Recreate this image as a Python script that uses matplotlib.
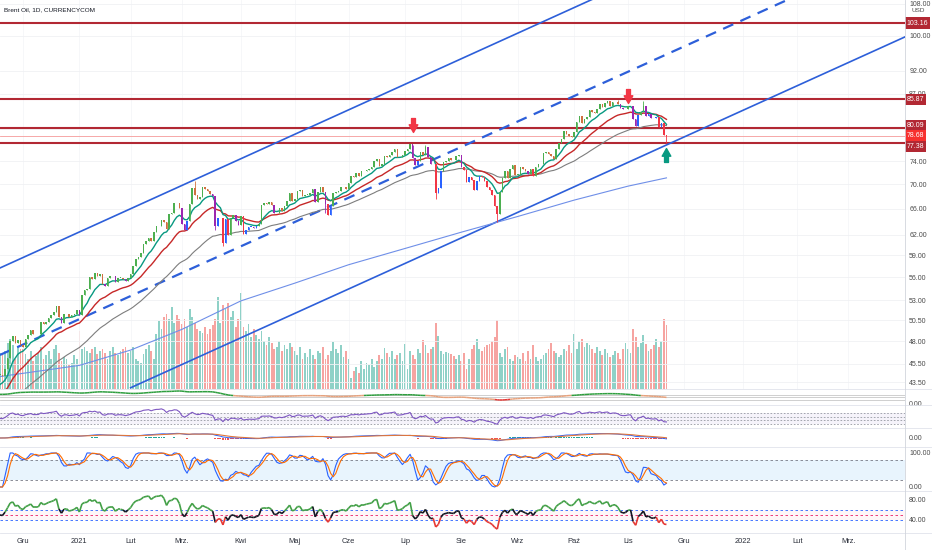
import numpy as np
import pandas as pd
import matplotlib
matplotlib.use("Agg")
import matplotlib.pyplot as plt
from matplotlib.collections import LineCollection
from matplotlib.lines import Line2D
from matplotlib.path import Path
from matplotlib.ticker import FixedLocator, FixedFormatter, NullLocator

plt.rcParams['font.family'] = ['Liberation Sans Narrow', 'Liberation Sans', 'DejaVu Sans']

# daily closes (Brent Oil CFD, 18 Nov 2020 - 22 Nov 2021)
close_nov20 = [44.3, 44.2, 44.9, 46.1, 48.0, 48.6, 47.8, 48.2, 47.6]
close_dec20 = [47.4, 48.3, 48.7, 49.3, 48.8, 48.8, 48.9, 50.3, 50.0, 50.3, 50.8, 51.1, 51.5, 52.3,
               50.9, 50.1, 51.2, 51.3, 50.9, 51.1, 51.3, 51.8]
close_jan21 = [51.1, 53.6, 54.3, 54.4, 56.0, 55.7, 56.6, 56.1, 56.4, 55.1, 54.8, 55.9, 56.1, 56.1,
               55.4, 55.9, 55.9, 55.8, 55.5, 55.9]
close_feb21 = [56.4, 57.5, 58.5, 58.8, 59.3, 60.6, 61.1, 61.5, 61.1, 62.4, 63.3, 63.4, 64.3, 63.9,
               62.9, 65.2, 65.4, 67.0, 66.9, 66.1]
close_mar21 = [63.7, 62.7, 64.1, 66.7, 69.4, 68.2, 67.5, 67.9, 69.6, 69.2, 68.9, 68.4, 68.0, 63.3,
               64.5, 64.6, 60.8, 64.4, 62.0, 64.6, 65.0, 64.1, 63.5]
close_apr21 = [64.9, 62.2, 62.7, 63.2, 63.2, 63.0, 63.3, 63.7, 66.6, 66.9, 66.8, 67.1, 66.6, 65.3,
               65.4, 66.1, 65.7, 66.4, 67.3, 68.6, 67.3]
close_may21 = [67.6, 68.9, 69.0, 68.1, 68.3, 68.3, 68.6, 69.3, 67.1, 68.7, 69.5, 68.7, 66.7, 65.1,
               66.4, 68.5, 68.7, 68.9, 69.5, 69.6, 69.3]
close_jun21 = [70.3, 71.4, 71.3, 71.9, 71.5, 72.2, 72.2, 72.5, 72.7, 72.9, 74.0, 74.4, 73.1, 73.5,
               74.9, 74.8, 75.2, 75.6, 76.2, 74.7, 74.8, 75.1]
close_jul21 = [75.8, 76.2, 77.2, 74.5, 73.4, 74.1, 75.6, 75.2, 76.5, 74.8, 73.5, 73.6, 68.6, 69.4,
               72.2, 73.8, 74.1, 74.5, 74.3, 74.2, 75.0, 75.2]
close_aug21 = [72.9, 72.4, 70.4, 71.3, 70.7, 69.0, 70.6, 71.4, 71.3, 70.6, 69.5, 69.0, 68.2, 66.5,
               65.2, 68.8, 71.1, 72.3, 71.1, 72.7, 73.4, 71.6]
close_sep21 = [71.6, 73.0, 72.6, 72.2, 71.7, 72.6, 71.5, 72.9, 73.5, 73.6, 75.5, 75.7, 75.3, 74.9,
               74.4, 76.2, 77.3, 78.1, 79.5, 79.1, 78.6, 78.5]
close_oct21 = [79.3, 81.3, 82.6, 81.1, 82.0, 82.4, 83.7, 83.4, 83.2, 84.0, 84.9, 84.3, 85.1, 85.5,
               84.6, 85.3, 85.4, 85.0, 84.2, 83.9, 84.0]
close_nov21 = [84.5, 84.6, 82.0, 80.5, 82.7, 83.4, 84.6, 82.6, 82.9, 82.2, 82.1, 82.4, 80.3, 81.2,
               78.9, 78.68]

# volume (thousands of lots, rough read of bar heights)
volume = [36, 34, 38, 46, 50, 44, 30, 42, 40,
          40, 35, 30, 38, 28, 33, 36, 42, 30, 34, 38, 30, 40, 44, 36, 28, 32, 30, 24, 26, 34, 30,
          58, 40, 42, 38, 36, 40, 42, 35, 38, 40, 36, 30, 38, 42, 36, 34, 38, 40, 42, 36,
          38, 42, 30, 28, 26, 35, 40, 44, 38, 30, 55, 68, 60, 72, 75, 70, 82, 66, 74, 70,
          65, 70, 62, 80, 72, 66, 60, 58, 56, 62, 55, 60, 64, 70, 92, 66, 84, 80, 86, 72, 78, 62, 70,
          96, 62, 58, 65, 52, 60, 54, 50, 58, 48, 44, 52, 46, 40, 42, 48, 38, 44, 40, 46, 42,
          38, 34, 42, 30, 36, 32, 40, 34, 30, 38, 36, 42, 30, 34, 38, 47, 40, 36, 44, 32, 38,
          30, 11, 18, 22, 16, 28, 20, 26, 24, 30, 22, 28, 34, 30, 41, 36, 32, 38, 30, 34, 36, 28,
          45, 20, 38, 34, 30, 40, 36, 49, 44, 36, 40, 42, 66, 53, 38, 35, 37, 36, 35, 33, 30, 34,
          28, 36, 20, 30, 40, 44, 50, 40, 38, 42, 44, 45, 48, 52, 69, 36, 32, 40, 42, 30, 28, 34,
          32, 30, 36, 28, 38, 30, 44, 32, 28, 30, 34, 36, 40, 46, 38, 36, 32, 34, 40, 38, 44, 36,
          55, 40, 48, 50, 42, 46, 44, 40, 36, 42, 38, 34, 40, 36, 32, 34, 38, 36, 30, 40, 46,
          40, 36, 60, 52, 42, 46, 54, 45, 38, 40, 44, 50, 42, 48, 70, 64]

# notable wicks
wick_high = {'2021-03-08': 70.6, '2021-07-06': 77.0, '2021-07-13': 76.9,
             '2021-10-26': 85.8, '2021-11-09': 85.6}
wick_low = {'2021-03-18': 62.7, '2021-03-23': 60.3, '2021-05-19': 65.3,
            '2021-07-19': 67.6, '2021-08-20': 64.0, '2021-11-22': 77.4}

# 200-day MA
ma200_dates = ['2020-11-18', '2021-01-04', '2021-02-01', '2021-03-01', '2021-04-01', '2021-05-03',
               '2021-06-01', '2021-07-01', '2021-08-02', '2021-09-01', '2021-10-01', '2021-11-01',
               '2021-11-22']
ma200_vals = [44.1, 45.3, 47.0, 49.4, 52.9, 55.2, 57.7, 60.0, 62.4, 64.8, 67.4, 69.7, 71.1]

# drawn channel (two anchors each) and horizontal levels
channel_upper = [('2020-11-18', 57.25), ('2021-03-08', 70.8)]
channel_mid = [('2020-11-18', 46.45), ('2021-07-06', 72.66)]
channel_lower = [('2021-02-01', 42.93), ('2021-08-20', 64.0)]
levels = [103.16, 85.87, 80.09, 77.38]
last_price = 78.68
arrows_down = [('2021-07-06', 80.7), ('2021-11-01', 86.6)]
arrows_up = [('2021-11-22', 75.1)]

month_names = ['Gru', '2021', 'Lut', 'Mrz.', 'Kwi', 'Maj', 'Cze', 'Lip', 'Sie', 'Wrz', 'Paź', 'Lis',
               'Gru', '2022', 'Lut', 'Mrz.']
price_ticks = [43.5, 45.5, 48, 50.5, 53, 56, 59, 62, 66, 70, 74, 80, 87, 92, 100, 108]

close = np.array(close_nov20 + close_dec20 + close_jan21 + close_feb21 + close_mar21 + close_apr21
                 + close_may21 + close_jun21 + close_jul21 + close_aug21 + close_sep21 + close_oct21
                 + close_nov21)
volume = np.array(volume, dtype=float)

holidays = pd.to_datetime(['2020-12-25', '2021-01-01', '2021-04-02'])
days = pd.bdate_range('2020-11-18', '2022-03-31')
days = days[~days.isin(holidays)]
n = len(close)
x = np.arange(n)


def idx(d):
    return days.get_loc(pd.Timestamp(d))


opens = np.r_[close[0], close[:-1]]
highs = np.maximum(opens, close)
lows = np.minimum(opens, close)
for d, v in wick_high.items():
    highs[idx(d)] = v
for d, v in wick_low.items():
    lows[idx(d)] = v


def ema(values, period, seed=None):
    a = 2 / (period + 1)
    prev = values[0] if seed is None else seed
    out = np.empty(len(values))
    for k, v in enumerate(values):
        prev += a * (v - prev)
        out[k] = prev
    return out


def rsi(values, period):
    d = np.diff(values, prepend=values[0])
    up, dn = np.clip(d, 0, None), np.clip(-d, 0, None)
    au = ad = np.abs(d[1:period + 1]).mean() / 2
    out = np.empty(len(values))
    for k in range(len(values)):
        au = (au * (period - 1) + up[k]) / period
        ad = (ad * (period - 1) + dn[k]) / period
        out[k] = 100 - 100 / (1 + au / ad)
    return out


ema_fast = ema(close, 9, seed=43.0)
ema_mid = ema(close, 21, seed=42.0)
ema_slow = ema(close, 50, seed=40.5)

# ---- layout (pixel boxes) ----
W, H = 932, 550
R = 905
TICK_FS = 5.0


def rect(y0, y1):
    return [0, 1 - y1 / H, R / W, (y1 - y0) / H]


fig = plt.figure(figsize=(W / 100, H / 100), dpi=100)
ax_vol = fig.add_axes(rect(0, 389))
ax = fig.add_axes(rect(0, 389), sharex=ax_vol)
ax.patch.set_alpha(0)
ax_a = fig.add_axes(rect(389, 405), sharex=ax_vol)
ax_b = fig.add_axes(rect(405, 428), sharex=ax_vol)
ax_c = fig.add_axes(rect(428, 447), sharex=ax_vol)
ax_d = fig.add_axes(rect(447, 491), sharex=ax_vol)
ax_e = fig.add_axes(rect(491, 533), sharex=ax_vol)
panels = [ax_a, ax_b, ax_c, ax_d, ax_e]

month_idx = [np.argmax((days.year == p.year) & (days.month == p.month))
             for p in pd.period_range('2020-12', '2022-03', freq='M')]
i_dec, i_nov = month_idx[0], month_idx[11]
scale = (628 - 23) / (i_nov - i_dec)
xl = i_dec - 23 / scale
xr = xl + R / scale

# volume
vol_cols = np.where(close >= opens, '#8fd1c7', '#f6a4a1')
ax_vol.bar(x, volume, width=0.7, color=vol_cols)
ax_vol.set_ylim(0, 389)
ax_vol.set_axis_off()

# price
ax.set_yscale('log')
ax.set_ylim(42.80, 109.04)
ax.set_xlim(xl, xr)
ax.yaxis.set_major_locator(FixedLocator(price_ticks))
ax.yaxis.set_minor_locator(NullLocator())
ax.yaxis.set_major_formatter(FixedFormatter(['%.2f' % t for t in price_ticks]))
ax.yaxis.tick_right()
ax.tick_params(axis='y', length=0, pad=3, labelsize=TICK_FS, labelcolor='#4a4a4a')
ax.tick_params(axis='x', bottom=False, labelbottom=False)
ax.grid(axis='y', color='#f0f1f4', lw=0.6)
ax.grid(axis='x', color='#f5f6f8', lw=0.6)
for s in ax.spines.values():
    s.set_visible(False)

for lv in levels:
    ax.axhline(lv, color='#b22833', lw=1.5, zorder=2)
ax.axhline(last_price, color='#f59a9a', lw=0.6, zorder=2)

for pts, style in [(channel_upper, '-'), (channel_mid, '--'), (channel_lower, '-')]:
    (d1, p1), (d2, p2) = pts
    i1, i2 = idx(d1), idx(d2)
    k = (np.log(p2) - np.log(p1)) / (i2 - i1)
    xs = np.array([i1, xr + 5])
    ax.plot(xs, p1 * np.exp(k * (xs - i1)), ls=style, color='#2d5fd9',
            lw=1.6 if style == '--' else 1.2, dashes=(5, 3.5) if style == '--' else (None, None), zorder=3)

ax.plot([idx(d) for d in ma200_dates], ma200_vals, color='#6f8fe8', lw=0.8, zorder=3)
ax.plot(x, ema_slow, color='#7d7d7d', lw=0.8, zorder=4)
ax.plot(x, ema_mid, color='#c62828', lw=1.0, zorder=4)
ax.plot(x, ema_fast, color='#089981', lw=1.0, zorder=4)

cols = []
for c, o, g, s in zip(close, opens, ema_fast, ema_slow):
    if c >= g:
        cols.append('#4caf50' if c >= o else '#d0703f')
    elif c >= s:
        cols.append('#2962ff' if c >= o else '#9c27b0')
    else:
        cols.append('#2962ff' if c >= o else '#f23645')
ax.vlines(x, lows, highs, colors=cols, lw=0.6, zorder=5)
body_lo = np.minimum(opens, close)
body_h = np.maximum(np.abs(close - opens), 0.08)
ax.bar(x, body_h, bottom=body_lo, width=0.6, color=cols, zorder=5)

down = Path([(-0.28, 1), (0.28, 1), (0.28, 0.1), (0.62, 0.1), (0, -1), (-0.62, 0.1), (-0.28, 0.1),
             (-0.28, 1)], closed=True)
up = Path([(-0.28, -1), (0.28, -1), (0.28, -0.1), (0.62, -0.1), (0, 1), (-0.62, -0.1),
           (-0.28, -0.1), (-0.28, -1)], closed=True)
for d, p in arrows_down:
    ax.plot(idx(d), p, marker=down, markersize=10, color='#f23645', ls='none', zorder=6)
for d, p in arrows_up:
    ax.plot(idx(d), p, marker=up, markersize=10, color='#089981', ls='none', zorder=6)

# right-hand price boxes
box_offset = {80.09: 2.2, 77.38: -2.6}
for lv in levels + [last_price]:
    fc = '#f7312f' if lv == last_price else '#b22833'
    ax.annotate('%.2f' % lv, xy=(1, lv), xycoords=('axes fraction', 'data'),
                xytext=(1.2, box_offset.get(lv, 0)), textcoords='offset points',
                ha='left', va='center', fontsize=TICK_FS, color='white', annotation_clip=False,
                bbox=dict(boxstyle='square,pad=0.3', fc=fc, ec='none'), zorder=10)

# ---- indicator panels ----
for p in panels:
    for s in p.spines.values():
        s.set_visible(False)
    p.yaxis.tick_right()
    p.tick_params(axis='y', length=0, pad=3, labelsize=TICK_FS, labelcolor='#4a4a4a')
    p.tick_params(axis='x', bottom=False, labelbottom=False)


def colored_line(axis, ys, colors, lw):
    pts = np.column_stack([x, ys])
    segs = np.stack([pts[:-1], pts[1:]], axis=1)
    axis.add_collection(LineCollection(segs, colors=colors, linewidths=lw))


# A: trend gap
gap = ema((ema_fast - ema_slow) / ema_slow, 5)
lo_, hi_ = gap.min(), gap.max()
sp = hi_ - lo_
ax_a.set_ylim(lo_ - sp * 5 / 9, hi_ + sp * 2 / 9)
for f in (0.31, 0.47, 0.62):
    ax_a.plot([0, 1], [f, f], transform=ax_a.transAxes, color='#c8c8c8', lw=0.6)
mid_gap = (gap[:-1] + gap[1:]) / 2
colored_line(ax_a, gap, np.where(mid_gap > 0.045, '#2e9e3e',
                                 np.where(mid_gap < -0.02, '#e53935', '#e8a27c')), 1.1)
ya = ax_a.get_ylim()
ax_a.set_yticks([ya[0] + (ya[1] - ya[0]) / 16])
ax_a.set_yticklabels(['0.00'])

# B: RSI 14
r14 = rsi(close, 14)
ax_b.set_ylim(15.4, 99)
ax_b.axhspan(30, 70, color='#7e57c2', alpha=0.07, lw=0)
for lv in (70, 55, 45, 30):
    ax_b.axhline(lv, color='#9598a1', lw=0.6, dashes=(2, 2))
ax_b.plot(x, r14, color='#7e57c2', lw=0.8)
ax_b.set_yticks([])

# C: MACD
macd = ema(close, 12) - ema(close, 26)
signal = ema(macd, 9)
hist = macd - signal
ax_c.set_ylim(-5.4, 6)
ax_c.bar(x, hist, width=0.7, color=np.where(hist >= 0, '#26a69a', '#ef5350'))
ax_c.plot(x, macd, color='#2962ff', lw=0.7)
ax_c.plot(x, signal, color='#e0763b', lw=0.8)
ax_c.set_yticks([0])
ax_c.set_yticklabels(['0.00'])

# D: stochastic
s_lo = pd.Series(lows).rolling(14, min_periods=1).min().values
s_hi = pd.Series(highs).rolling(14, min_periods=1).max().values
raw = 100 * (close - s_lo) / np.where(s_hi > s_lo, s_hi - s_lo, 1)
k_line = pd.Series(raw).rolling(3, min_periods=1).mean().values
d_line = pd.Series(k_line).rolling(3, min_periods=1).mean().values
ax_d.set_ylim(-11.8, 117.6)
ax_d.axhspan(20, 80, color='#2196f3', alpha=0.1, lw=0)
for lv in (80, 20):
    ax_d.axhline(lv, color='#787b86', lw=0.6, dashes=(3, 3))
ax_d.plot(x, k_line, color='#2962ff', lw=0.8)
ax_d.plot(x, d_line, color='#ff6d00', lw=0.8)
ax_d.set_yticks([0, 100])
ax_d.set_yticklabels(['0.00', '100.00'])

# E: RSI 9 coloured
r9 = rsi(close, 9)
ax_e.set_ylim(14, 98)
ax_e.axhspan(40, 60, color='#e91e63', alpha=0.04, lw=0)
ax_e.axhline(60, color='#2962ff', lw=0.6, dashes=(3, 3))
ax_e.axhline(50, color='#e91e63', lw=0.6, dashes=(3, 3))
ax_e.axhline(40, color='#2962ff', lw=0.6, dashes=(3, 3))
mid_r = (r9[:-1] + r9[1:]) / 2
colored_line(ax_e, r9, np.where(mid_r >= 58, '#43a047', np.where(mid_r < 42, '#e53935', '#131722')), 1.2)
ax_e.set_yticks([40, 80])
ax_e.set_yticklabels(['40.00', '80.00'])

ax_e.set_xticks(month_idx)
ax_e.set_xticklabels(month_names)
ax_e.tick_params(axis='x', bottom=False, labelbottom=True, length=0, pad=3.5, labelsize=5.4,
                 labelcolor='#2a2e39')
ax_e.set_xlim(xl, xr)

# separators and title
for yp in (389, 405, 428, 447, 491, 533):
    fig.add_artist(Line2D([0, 1], [1 - yp / H] * 2, transform=fig.transFigure, color='#e0e3eb', lw=0.6))
fig.add_artist(Line2D([R / W] * 2, [0, 1], transform=fig.transFigure, color='#d1d4dc', lw=0.6))
fig.text(4 / W, 1 - 10 / H, 'Brent Oil, 1D, CURRENCYCOM', fontsize=4.6, va='center', color='#131722')
fig.text(918 / W, 1 - 11 / H, 'USD', fontsize=4.6, ha='center', va='center', color='#4a4a4a')

fig.savefig('out.png', dpi=100)
